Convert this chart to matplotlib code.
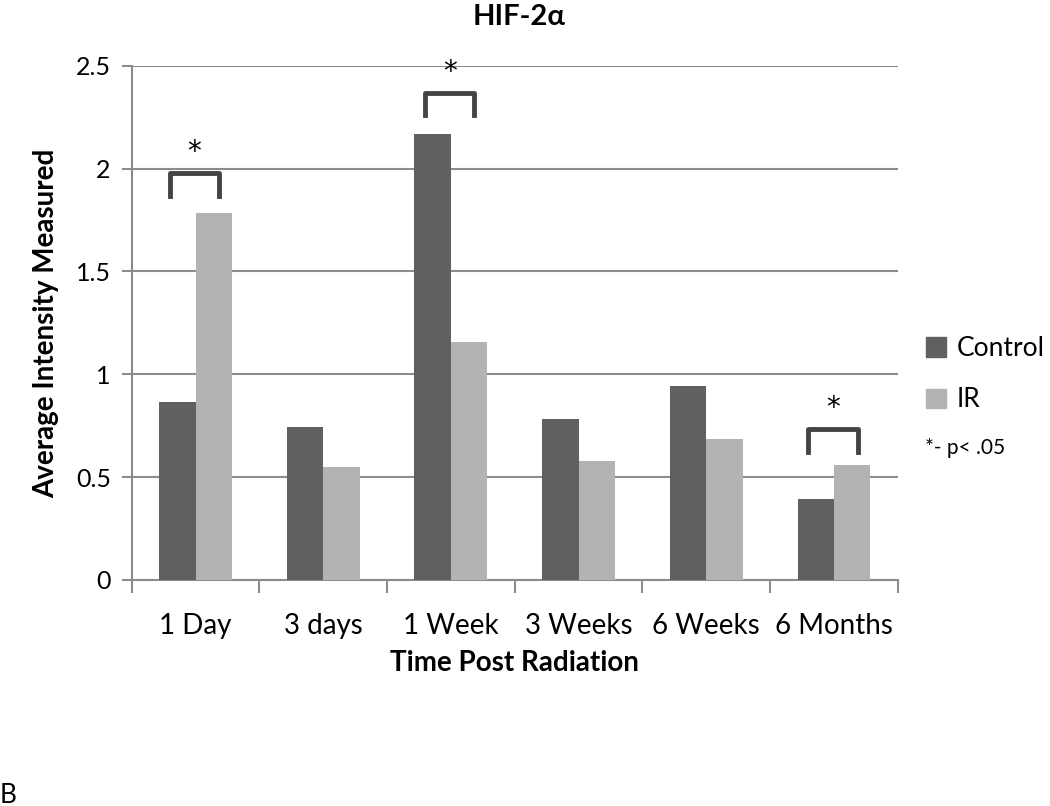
import matplotlib
matplotlib.use("Agg")
import matplotlib.pyplot as plt
import numpy as np
from matplotlib.patches import Patch

plt.rcParams['font.family'] = ['Lato', 'DejaVu Sans']

# data
categories = ['1 Day', '3 days', '1 Week', '3 Weeks', '6 Weeks', '6 Months']
control = [0.864, 0.742, 2.167, 0.781, 0.945, 0.394]
ir = [1.783, 0.549, 1.157, 0.578, 0.684, 0.559]
# significance brackets: (category index, bracket top, leg bottom)
sig_idx = [0, 2, 5]
sig_top = [1.979, 2.369, 0.734]
sig_bottom = [1.868, 2.261, 0.624]

dark = '#606060'
light = '#b3b3b3'
grid_col = '#8c8c8c'

fig = plt.figure(figsize=(10.5, 8.06), dpi=100)
ax = fig.add_axes([0.1254, 0.2804, 0.7296, 0.6381])

x = np.arange(len(categories))
w = 0.285
ax.bar(x - w / 2, control, w, color=dark, label='Control', zorder=3)
ax.bar(x + w / 2, ir, w, color=light, label='IR', zorder=3)

ax.set_xlim(-0.5, len(categories) - 0.5)
ax.set_ylim(0, 2.5)
ax.set_yticks([0, 0.5, 1, 1.5, 2, 2.5])
ax.set_yticklabels(['0', '0.5', '1', '1.5', '2', '2.5'], fontsize=18)
ax.yaxis.grid(True, color=grid_col, linewidth=1.5, zorder=0)

# category labels on major ticks (hidden), boundary ticks as minor
ax.set_xticks(x)
ax.set_xticklabels(categories, fontsize=20)
ax.tick_params(axis='x', which='major', length=0, pad=24)
ax.set_xticks(np.arange(-0.5, len(categories)), minor=True)
ax.tick_params(axis='x', which='minor', length=9, width=1.5, color=grid_col)
ax.tick_params(axis='y', length=7, width=1.5, color=grid_col, pad=8)

for side in ['top', 'right']:
    ax.spines[side].set_visible(False)
for side in ['left', 'bottom']:
    ax.spines[side].set_color(grid_col)
    ax.spines[side].set_linewidth(1.5)

ax.set_xlabel('Time Post Radiation', fontsize=20, fontweight='bold', labelpad=8)
ax.set_ylabel('Average Intensity Measured', fontsize=20, fontweight='bold', labelpad=12)
fig.text(0.494, 0.979, 'HIF-2α', fontsize=21, fontweight='bold',
         ha='center', va='center')

# significance brackets and stars
for i, top, bot in zip(sig_idx, sig_top, sig_bottom):
    xl, xr = i - 0.2, i + 0.185
    ax.plot([xl, xl, xr, xr], [bot, top, top, bot], color='#444444',
            linewidth=3.5, solid_joinstyle='round', zorder=4, clip_on=False)
    ax.text((xl + xr) / 2, top + 0.1, '*', ha='center', va='center',
            fontsize=20, family='DejaVu Sans', clip_on=False)

handles = [Patch(color=dark, label='Control'), Patch(color=light, label='IR')]
fig.legend(handles=handles, loc='upper left', bbox_to_anchor=(0.882, 0.583),
           frameon=False, fontsize=19, handlelength=0.75, handleheight=0.75,
           handletextpad=0.4, labelspacing=1.0, borderaxespad=0, borderpad=0)
fig.text(0.881, 0.444, '*- p< .05', fontsize=15, va='center')

fig.text(0.0, 0.004, 'B', fontsize=19)

fig.savefig('out.png', dpi=100)
